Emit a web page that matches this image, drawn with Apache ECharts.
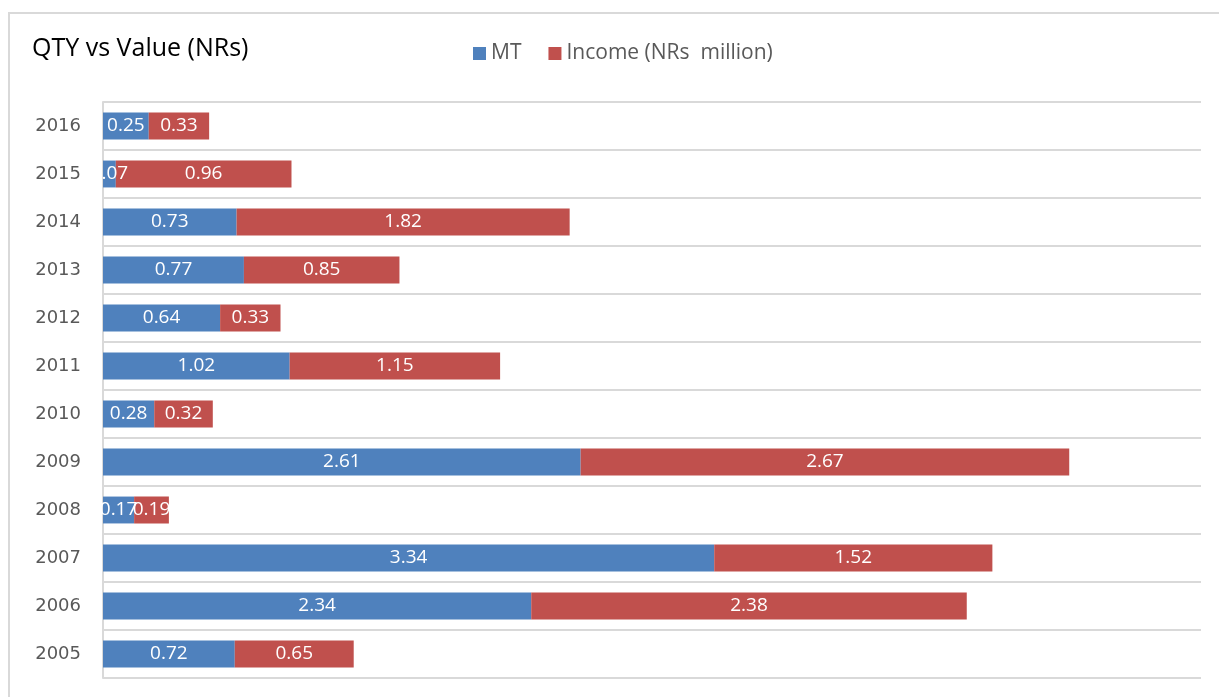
<!DOCTYPE html>
<html>
<head>
<meta charset="utf-8">
<script src="https://cdn.jsdelivr.net/npm/echarts@6/dist/echarts.min.js"></script>
<style>
  html, body { margin: 0; padding: 0; background: #fff; }
  #chart { width: 1219px; height: 697px; }
</style>
</head>
<body>
<div id="chart"></div>
<script>
var years = ['2005', '2006', '2007', '2008', '2009', '2010', '2011', '2012', '2013', '2014', '2015', '2016'];
var mt = [0.72, 2.34, 3.34, 0.17, 2.61, 0.28, 1.02, 0.64, 0.77, 0.73, 0.07, 0.25];
var income = [0.65, 2.38, 1.52, 0.19, 2.67, 0.32, 1.15, 0.33, 0.85, 1.82, 0.96, 0.33];

var chart = echarts.init(document.getElementById('chart'));

var barLabel = {
  show: true,
  position: 'inside',
  color: '#fff',
  fontSize: 19,
  fontFamily: 'Open Sans'
};

chart.setOption({
  backgroundColor: '#ffffff',
  animation: false,
  color: ['#4f81bd', '#c0504d'],
  graphic: [{
    type: 'rect',
    shape: { x: 9, y: 13, width: 1230, height: 700 },
    style: { fill: 'none', stroke: '#d9d9d9', lineWidth: 2 }
  }],
  title: {
    text: 'QTY vs Value (NRs)',
    left: 27,
    top: 31,
    textStyle: { fontSize: 25, fontWeight: 'normal', color: '#000', fontFamily: 'Open Sans' }
  },
  legend: {
    left: 468,
    top: 38,
    itemWidth: 13,
    itemHeight: 13,
    itemGap: 27,
    icon: 'rect',
    textStyle: { fontSize: 21, color: '#595959', fontFamily: 'Open Sans' },
    data: ['MT', 'Income (NRs  million)']
  },
  grid: { left: 103, right: 18, top: 102, bottom: 19, containLabel: false },
  xAxis: {
    type: 'value',
    min: 0,
    max: 6,
    axisLabel: { show: false },
    axisLine: { show: false },
    axisTick: { show: false },
    splitLine: { show: false }
  },
  yAxis: {
    type: 'category',
    data: years,
    axisLine: { show: true, lineStyle: { color: '#d9d9d9', width: 2 } },
    axisTick: { show: false },
    splitLine: { show: true, lineStyle: { color: '#d9d9d9', width: 2 } },
    axisLabel: { color: '#595959', fontSize: 18, margin: 22, fontFamily: 'DejaVu Sans' }
  },
  series: [{
    name: 'MT',
    type: 'bar',
    stack: 'total',
    barWidth: '56%',
    data: mt,
    label: barLabel
  }, {
    name: 'Income (NRs  million)',
    type: 'bar',
    stack: 'total',
    barWidth: '56%',
    data: income,
    label: barLabel
  }]
});
</script>
</body>
</html>
